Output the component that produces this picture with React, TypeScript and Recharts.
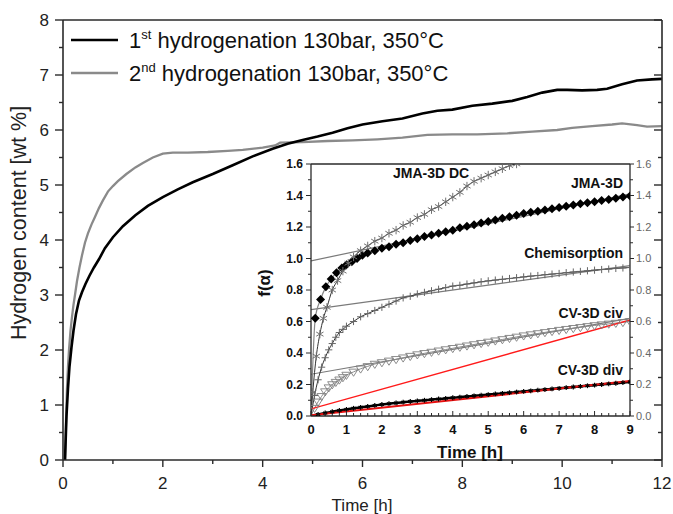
import React from 'react';
import { ComposedChart, Line, XAxis, YAxis } from 'recharts';

const FONT = '"Liberation Sans", Arial, Helvetica, sans-serif';

// ---------- main chart data ----------
const h1Time = [0.04, 0.07, 0.1, 0.13, 0.17, 0.21, 0.26, 0.32, 0.38, 0.45, 0.53, 0.62, 0.72, 0.84, 1.0, 1.2, 1.45, 1.7, 2.0, 2.3, 2.6, 3.0, 3.4, 3.8, 4.2, 4.5, 4.8, 5.1, 5.4, 5.7, 6.0, 6.4, 6.8, 7.2, 7.5, 7.8, 8.2, 8.6, 9.0, 9.3, 9.6, 9.9, 10.1, 10.4, 10.7, 10.9, 11.2, 11.5, 11.8, 12.0];
const h1Content = [0, 0.8, 1.3, 1.7, 2.05, 2.35, 2.65, 2.9, 3.05, 3.2, 3.35, 3.5, 3.65, 3.85, 4.05, 4.25, 4.45, 4.62, 4.78, 4.92, 5.05, 5.2, 5.36, 5.52, 5.66, 5.75, 5.82, 5.88, 5.95, 6.03, 6.1, 6.16, 6.21, 6.3, 6.35, 6.37, 6.44, 6.48, 6.53, 6.6, 6.68, 6.73, 6.73, 6.72, 6.73, 6.75, 6.83, 6.9, 6.92, 6.93];

const h2Time = [0.04, 0.06, 0.08, 0.1, 0.12, 0.15, 0.18, 0.21, 0.24, 0.28, 0.33, 0.38, 0.44, 0.5, 0.57, 0.64, 0.72, 0.8, 0.9, 1.0, 1.1, 1.27, 1.45, 1.6, 1.8, 2.0, 2.2, 2.5, 2.9, 3.3, 3.6, 4.0, 4.25, 4.35, 4.8, 5.3, 5.8, 6.3, 6.8, 7.3, 7.8, 8.3, 8.9, 9.4, 9.9, 10.2, 10.6, 11.0, 11.2, 11.5, 11.7, 12.0];
const h2Content = [0, 0.7, 1.3, 1.7, 2.0, 2.35, 2.6, 2.82, 3.0, 3.25, 3.5, 3.72, 3.95, 4.12, 4.28, 4.42, 4.58, 4.72, 4.88, 4.98, 5.07, 5.2, 5.32, 5.4, 5.5, 5.57, 5.59, 5.59, 5.6, 5.62, 5.64, 5.68, 5.72, 5.77, 5.78, 5.8, 5.81, 5.83, 5.86, 5.91, 5.92, 5.92, 5.94, 5.97, 6.0, 6.04, 6.07, 6.1, 6.12, 6.09, 6.06, 6.07];

const mainXTicks = [0, 1, 2, 3, 4, 5, 6, 7, 8, 9, 10, 11, 12];
const mainXLabels = [0, 2, 4, 6, 8, 10, 12];
const mainYTicks = [0, 0.5, 1, 1.5, 2, 2.5, 3, 3.5, 4, 4.5, 5, 5.5, 6, 6.5, 7, 7.5, 8];
const mainYLabels = [0, 1, 2, 3, 4, 5, 6, 7, 8];

// ---------- inset data ----------
const dcTime = [0.05, 0.15, 0.25, 0.35, 0.45, 0.6, 0.75, 0.9, 1.05, 1.2, 1.4, 1.6, 1.8, 2.0, 2.2, 2.4, 2.6, 2.8, 3.0, 3.2, 3.4, 3.6, 3.8, 4.0, 4.2, 4.4, 4.6, 4.8, 5.0, 5.2, 5.4, 5.6, 5.8];
const dcValue = [0.15, 0.38, 0.52, 0.62, 0.69, 0.8, 0.86, 0.92, 0.97, 1.01, 1.05, 1.08, 1.11, 1.13, 1.16, 1.18, 1.21, 1.23, 1.26, 1.28, 1.31, 1.33, 1.36, 1.39, 1.42, 1.46, 1.49, 1.51, 1.53, 1.55, 1.57, 1.59, 1.6];

const jmaTime = [0, 0.12, 0.27, 0.42, 0.57, 0.72, 0.87, 1.0, 1.15, 1.3, 1.45, 1.6, 1.8, 2.0, 2.2, 2.4, 2.6, 2.8, 3.0, 3.2, 3.4, 3.6, 3.8, 4.0, 4.2, 4.4, 4.6, 4.8, 5.0, 5.2, 5.4, 5.6, 5.8, 6.0, 6.2, 6.4, 6.6, 6.8, 7.0, 7.2, 7.4, 7.6, 7.8, 8.0, 8.2, 8.4, 8.6, 8.8, 9.0];
const jmaValue = [0, 0.62, 0.74, 0.82, 0.87, 0.91, 0.94, 0.96, 0.98, 1.0, 1.02, 1.035, 1.05, 1.065, 1.075, 1.09, 1.1, 1.115, 1.125, 1.14, 1.15, 1.16, 1.17, 1.18, 1.195, 1.205, 1.215, 1.225, 1.235, 1.245, 1.255, 1.265, 1.275, 1.285, 1.293, 1.3, 1.308, 1.316, 1.324, 1.332, 1.34, 1.347, 1.354, 1.361, 1.368, 1.375, 1.382, 1.39, 1.397];

const chemTime = [0, 0.1, 0.2, 0.3, 0.4, 0.5, 0.6, 0.7, 0.8, 0.9, 1.0, 1.2, 1.4, 1.6, 1.8, 2.0, 2.2, 2.4, 2.6, 2.8, 3.0, 3.2, 3.4, 3.6, 3.8, 4.0, 4.2, 4.4, 4.6, 4.8, 5.0, 5.2, 5.4, 5.6, 5.8, 6.0, 6.2, 6.4, 6.6, 6.8, 7.0, 7.2, 7.4, 7.6, 7.8, 8.0, 8.2, 8.4, 8.6, 8.8, 9.0];
const chemValue = [0, 0.13, 0.23, 0.31, 0.37, 0.42, 0.46, 0.5, 0.53, 0.55, 0.57, 0.6, 0.63, 0.65, 0.67, 0.69, 0.71, 0.73, 0.75, 0.76, 0.775, 0.785, 0.795, 0.805, 0.815, 0.825, 0.83, 0.838, 0.845, 0.852, 0.858, 0.863, 0.868, 0.873, 0.878, 0.883, 0.888, 0.892, 0.897, 0.901, 0.905, 0.91, 0.914, 0.918, 0.922, 0.926, 0.93, 0.933, 0.937, 0.94, 0.943];

const civTime = [0, 0.1, 0.2, 0.3, 0.4, 0.5, 0.6, 0.7, 0.8, 0.9, 1.0, 1.2, 1.4, 1.6, 1.8, 2.0, 2.2, 2.4, 2.6, 2.8, 3.0, 3.2, 3.4, 3.6, 3.8, 4.0, 4.2, 4.4, 4.6, 4.8, 5.0, 5.2, 5.4, 5.6, 5.8, 6.0, 6.2, 6.4, 6.6, 6.8, 7.0, 7.2, 7.4, 7.6, 7.8, 8.0, 8.2, 8.4, 8.6, 8.8, 9.0];
const civValue = [0, 0.05, 0.09, 0.125, 0.155, 0.18, 0.2, 0.215, 0.23, 0.245, 0.26, 0.28, 0.3, 0.315, 0.33, 0.34, 0.35, 0.36, 0.37, 0.38, 0.39, 0.398, 0.406, 0.414, 0.422, 0.43, 0.438, 0.446, 0.454, 0.462, 0.47, 0.478, 0.486, 0.494, 0.502, 0.51, 0.517, 0.524, 0.531, 0.538, 0.545, 0.551, 0.557, 0.563, 0.569, 0.575, 0.58, 0.585, 0.59, 0.595, 0.6];

const divTime = [0, 0.2, 0.4, 0.6, 0.8, 1.0, 1.2, 1.4, 1.6, 1.8, 2.0, 2.2, 2.4, 2.6, 2.8, 3.0, 3.2, 3.4, 3.6, 3.8, 4.0, 4.2, 4.4, 4.6, 4.8, 5.0, 5.2, 5.4, 5.6, 5.8, 6.0, 6.2, 6.4, 6.6, 6.8, 7.0, 7.2, 7.4, 7.6, 7.8, 8.0, 8.2, 8.4, 8.6, 8.8, 9.0];
const divValue = [0, 0.01, 0.019, 0.027, 0.035, 0.042, 0.049, 0.055, 0.061, 0.067, 0.073, 0.078, 0.083, 0.088, 0.092, 0.096, 0.1, 0.104, 0.108, 0.112, 0.116, 0.12, 0.124, 0.128, 0.132, 0.136, 0.14, 0.144, 0.148, 0.152, 0.156, 0.16, 0.164, 0.168, 0.172, 0.176, 0.18, 0.184, 0.188, 0.192, 0.196, 0.2, 0.204, 0.208, 0.212, 0.216];

// linear fits (endpoints)
const fitTime = [0, 9];
const jmaFit = [0.985, 1.41];
const chemFit = [0.675, 0.955];
const civFit = [0.265, 0.62];
const redUpper = [0.045, 0.61];
const redLower = [0.005, 0.222];

const insetXLabels = [0, 1, 2, 3, 4, 5, 6, 7, 8, 9];
const insetYLabels = ['0.0', '0.2', '0.4', '0.6', '0.8', '1.0', '1.2', '1.4', '1.6'];
const insetXTicks = Array.from({ length: 46 }, (_, i) => Math.round(i * 2) / 10);
const insetYTicks = Array.from({ length: 17 }, (_, i) => i / 10);

const zip = (ts: number[], vs: number[]) => ts.map((t, i) => ({ t, v: vs[i] }));

const h1Data = zip(h1Time, h1Content);
const h2Data = zip(h2Time, h2Content);
const dcData = [{ t: 0, v: 0 }, ...zip(dcTime, dcValue)];
const jmaData = zip(jmaTime, jmaValue);
const chemData = zip(chemTime, chemValue);
const civData = zip(civTime, civValue);
const divData = zip(divTime, divValue);
const jmaFitData = zip(fitTime, jmaFit);
const chemFitData = zip(fitTime, chemFit);
const civFitData = zip(fitTime, civFit);
const redUpperData = zip(fitTime, redUpper);
const redLowerData = zip(fitTime, redLower);

// ---------- tick factory ----------
type TickOpts = {
  side: 'left' | 'right' | 'top' | 'bottom';
  inward: boolean;
  major: number;
  minor: number;
  isMajor: (v: number) => boolean;
  label?: (v: number) => string | null;
  gap?: number;
  fontSize?: number;
  fontWeight?: number | string;
  fill?: string;
  stroke: string;
  strokeWidth: number;
};

function makeTick(o: TickOpts) {
  return (props: any) => {
    const x = Number(props.x);
    const y = Number(props.y);
    const v = props.payload.value;
    const len = o.isMajor(v) ? o.major : o.minor;
    const out = o.inward ? -1 : 1;
    let x2 = x;
    let y2 = y;
    if (o.side === 'left') x2 = x - out * len;
    else if (o.side === 'right') x2 = x + out * len;
    else if (o.side === 'top') y2 = y - out * len;
    else y2 = y + out * len;
    const lbl = o.label ? o.label(v) : null;
    const off = (o.inward ? 0 : len) + (o.gap ?? 0);
    const common: any = { fontFamily: FONT, fontSize: o.fontSize, fontWeight: o.fontWeight, fill: o.fill };
    let txt: any = null;
    if (lbl != null) {
      if (o.side === 'left') txt = <text x={x - off} y={y} dy="0.36em" textAnchor="end" {...common}>{lbl}</text>;
      else if (o.side === 'right') txt = <text x={x + off} y={y} dy="0.36em" textAnchor="start" {...common}>{lbl}</text>;
      else if (o.side === 'top') txt = <text x={x} y={y - off} textAnchor="middle" {...common}>{lbl}</text>;
      else txt = <text x={x} y={y + off} dy="0.72em" textAnchor="middle" {...common}>{lbl}</text>;
    }
    return (
      <g>
        <line x1={x} y1={y} x2={x2} y2={y2} stroke={o.stroke} strokeWidth={o.strokeWidth} />
        {txt}
      </g>
    );
  };
}

const isInt = (v: number) => Math.abs(v - Math.round(v)) < 1e-6;
const isEven = (v: number) => isInt(v) && Math.round(v) % 2 === 0;
const isFifth = (v: number) => Math.abs(v * 5 - Math.round(v * 5)) < 1e-6;

const AX = '#2a2a2a';

// ---------- markers ----------
const asteriskDot = (color: string, r: number, sw: number) => (p: any) => {
  const { cx, cy, index } = p;
  if (p.payload && p.payload.t === 0) return <g key={`a${index}`} />;
  const dx = r * 0.87;
  const dy = r * 0.5;
  return (
    <g key={`a${index}`} stroke={color} strokeWidth={sw}>
      <line x1={cx} y1={cy - r} x2={cx} y2={cy + r} />
      <line x1={cx - dx} y1={cy - dy} x2={cx + dx} y2={cy + dy} />
      <line x1={cx - dx} y1={cy + dy} x2={cx + dx} y2={cy - dy} />
    </g>
  );
};

const plusDot = (color: string, r: number, sw: number) => (p: any) => {
  const { cx, cy, index } = p;
  if (p.payload && p.payload.t === 0) return <g key={`p${index}`} />;
  return (
    <g key={`p${index}`} stroke={color} strokeWidth={sw}>
      <line x1={cx} y1={cy - r} x2={cx} y2={cy + r} />
      <line x1={cx - r} y1={cy} x2={cx + r} y2={cy} />
    </g>
  );
};

const diamondDot = (color: string, r: number) => (p: any) => {
  const { cx, cy, index } = p;
  if (p.payload && p.payload.t === 0) return <g key={`d${index}`} />;
  return <polygon key={`d${index}`} points={`${cx},${cy - r} ${cx + r},${cy} ${cx},${cy + r} ${cx - r},${cy}`} fill={color} />;
};

const triDownDot = (color: string, r: number) => (p: any) => {
  const { cx, cy, index } = p;
  if (p.payload && p.payload.t === 0) return <g key={`t${index}`} />;
  return (
    <polygon
      key={`t${index}`}
      points={`${cx - r},${cy - r * 0.6} ${cx + r},${cy - r * 0.6} ${cx},${cy + r * 0.95}`}
      fill="none"
      stroke={color}
      strokeWidth={0.9}
    />
  );
};

// ---------- layout ----------
const W = 673;
const H = 514;
const INSET_L = 270;
const INSET_T = 139;
const INSET_W = 400;
const INSET_H = 330;

export default function App() {
  return (
    <div style={{ position: 'absolute', left: 0, top: 0, width: W, height: H, background: '#fff', fontFamily: FONT }}>
      {/* main chart */}
      <div style={{ position: 'absolute', left: 0, top: 0 }}>
        <ComposedChart width={W} height={H} margin={{ top: 19, right: 10, bottom: 0, left: 0 }}>
          <XAxis
            xAxisId="b"
            dataKey="t"
            type="number"
            domain={[0, 12]}
            allowDataOverflow
            ticks={mainXTicks}
            interval={0}
            orientation="bottom"
            height={54}
            tickLine={false}
            tickSize={0}
            tickMargin={0}
            axisLine={{ stroke: AX, strokeWidth: 1.6 }}
            tick={makeTick({
              side: 'bottom', inward: false, major: 7, minor: 4, isMajor: isEven,
              label: (v) => (mainXLabels.includes(v) ? String(v) : null),
              gap: 10, fontSize: 17, fill: '#222', stroke: AX, strokeWidth: 1.4,
            })}
          />
          <XAxis
            xAxisId="top"
            type="number"
            domain={[0, 12]}
            allowDataOverflow
            ticks={mainXTicks}
            interval={0}
            orientation="top"
            height={1}
            tickLine={false}
            tickSize={0}
            tickMargin={0}
            axisLine={{ stroke: AX, strokeWidth: 1.6 }}
            tick={makeTick({ side: 'top', inward: true, major: 7, minor: 4, isMajor: isEven, stroke: AX, strokeWidth: 1.4 })}
          />
          <YAxis
            yAxisId="l"
            type="number"
            domain={[0, 8]}
            allowDataOverflow
            ticks={mainYTicks}
            interval={0}
            width={63}
            tickLine={false}
            tickSize={0}
            tickMargin={0}
            axisLine={{ stroke: AX, strokeWidth: 1.6 }}
            tick={makeTick({
              side: 'left', inward: false, major: 8, minor: 4, isMajor: isInt,
              label: (v) => (mainYLabels.includes(v) ? String(v) : null),
              gap: 6, fontSize: 17, fill: '#222', stroke: AX, strokeWidth: 1.4,
            })}
          />
          <YAxis
            yAxisId="r"
            orientation="right"
            type="number"
            domain={[0, 8]}
            allowDataOverflow
            ticks={mainYTicks}
            interval={0}
            width={1}
            tickLine={false}
            tickSize={0}
            tickMargin={0}
            axisLine={{ stroke: AX, strokeWidth: 1.6 }}
            tick={makeTick({ side: 'right', inward: true, major: 8, minor: 4, isMajor: isInt, stroke: AX, strokeWidth: 1.4 })}
          />
          <Line xAxisId="b" yAxisId="l" data={h2Data} dataKey="v" type="linear" stroke="#8a8a8a" strokeWidth={2.3} dot={false} isAnimationActive={false} />
          <Line xAxisId="b" yAxisId="l" data={h1Data} dataKey="v" type="linear" stroke="#000" strokeWidth={2.6} dot={false} isAnimationActive={false} />
        </ComposedChart>
      </div>

      {/* inset chart */}
      <div style={{ position: 'absolute', left: INSET_L, top: INSET_T }}>
        <ComposedChart width={INSET_W} height={INSET_H} margin={{ top: 0, right: 0, bottom: 0, left: 0 }}>
          <XAxis
            xAxisId="b"
            dataKey="t"
            type="number"
            domain={[0, 9]}
            allowDataOverflow
            ticks={insetXTicks}
            interval={0}
            orientation="bottom"
            height={53}
            tickLine={false}
            tickSize={0}
            tickMargin={0}
            axisLine={{ stroke: AX, strokeWidth: 1.3 }}
            tick={makeTick({
              side: 'bottom', inward: true, major: 5, minor: 3, isMajor: isInt,
              label: (v) => (isInt(v) && insetXLabels.includes(Math.round(v)) ? String(Math.round(v)) : null),
              gap: 9, fontSize: 13, fontWeight: 'bold', fill: '#111', stroke: AX, strokeWidth: 1,
            })}
          />
          <XAxis
            xAxisId="top"
            type="number"
            domain={[0, 9]}
            allowDataOverflow
            ticks={insetXTicks}
            interval={0}
            orientation="top"
            height={25}
            tickLine={false}
            tickSize={0}
            tickMargin={0}
            axisLine={{ stroke: AX, strokeWidth: 1.3 }}
            tick={makeTick({
              side: 'top', inward: true, major: 5, minor: 3, isMajor: isInt,
              label: (v) => (isInt(v) && insetXLabels.includes(Math.round(v)) ? String(Math.round(v)) : null),
              gap: 8, fontSize: 11, fill: '#666', stroke: AX, strokeWidth: 1,
            })}
          />
          <YAxis
            yAxisId="l"
            type="number"
            domain={[0, 1.6]}
            allowDataOverflow
            ticks={insetYTicks}
            interval={0}
            width={41}
            tickLine={false}
            tickSize={0}
            tickMargin={0}
            axisLine={{ stroke: AX, strokeWidth: 1.3 }}
            tick={makeTick({
              side: 'left', inward: false, major: 5, minor: 3, isMajor: isFifth,
              label: (v) => (isFifth(v) ? insetYLabels[Math.round(v * 5)] : null),
              gap: 3, fontSize: 12, fontWeight: 'bold', fill: '#111', stroke: AX, strokeWidth: 1,
            })}
          />
          <YAxis
            yAxisId="r"
            orientation="right"
            type="number"
            domain={[0, 1.6]}
            allowDataOverflow
            ticks={insetYTicks}
            interval={0}
            width={40}
            tickLine={false}
            tickSize={0}
            tickMargin={0}
            axisLine={{ stroke: AX, strokeWidth: 1.3 }}
            tick={makeTick({
              side: 'right', inward: false, major: 4, minor: 3, isMajor: isFifth,
              label: (v) => (isFifth(v) ? insetYLabels[Math.round(v * 5)] : null),
              gap: 2, fontSize: 11, fill: '#666', stroke: AX, strokeWidth: 1,
            })}
          />

          {/* linear fits */}
          <Line xAxisId="b" yAxisId="l" data={jmaFitData} dataKey="v" type="linear" stroke="#7a7a7a" strokeWidth={1.2} dot={false} isAnimationActive={false} />
          <Line xAxisId="b" yAxisId="l" data={chemFitData} dataKey="v" type="linear" stroke="#7a7a7a" strokeWidth={1.2} dot={false} isAnimationActive={false} />
          <Line xAxisId="b" yAxisId="l" data={civFitData} dataKey="v" type="linear" stroke="#7a7a7a" strokeWidth={1.2} dot={false} isAnimationActive={false} />

          {/* model series */}
          <Line xAxisId="b" yAxisId="l" data={civData} dataKey="v" type="monotone" stroke="#8a8a8a" strokeWidth={1} dot={triDownDot('#7f7f7f', 4.6)} isAnimationActive={false} />
          <Line xAxisId="b" yAxisId="l" data={chemData} dataKey="v" type="monotone" stroke="#333" strokeWidth={1} dot={plusDot('#666', 3.6, 1)} isAnimationActive={false} />
          <Line xAxisId="b" yAxisId="l" data={jmaData} dataKey="v" type="monotone" stroke="#888" strokeWidth={1.2} dot={diamondDot('#000', 4.5)} isAnimationActive={false} />
          <Line xAxisId="b" yAxisId="l" data={dcData} dataKey="v" type="monotone" stroke="#333" strokeWidth={1} dot={asteriskDot('#707070', 4.2, 1)} isAnimationActive={false} />
          <Line xAxisId="b" yAxisId="l" data={divData} dataKey="v" type="monotone" stroke="#000" strokeWidth={2.5} dot={asteriskDot('#000', 2.4, 1.2)} isAnimationActive={false} />

          {/* red lines */}
          <Line xAxisId="b" yAxisId="l" data={redUpperData} dataKey="v" type="linear" stroke="#ff1a1a" strokeWidth={1.4} dot={false} isAnimationActive={false} />
          <Line xAxisId="b" yAxisId="l" data={redLowerData} dataKey="v" type="linear" stroke="#e61010" strokeWidth={2} dot={false} isAnimationActive={false} />
        </ComposedChart>
      </div>

      {/* overlay texts */}
      <svg width={W} height={H} style={{ position: 'absolute', left: 0, top: 0, pointerEvents: 'none' }}>
        <g fontFamily={FONT}>
          <line x1={71} y1={40} x2={118} y2={40} stroke="#000" strokeWidth={2.6} />
          <text x={129} y={48} fontSize={22} fill="#111">
            1<tspan fontSize={13} dy={-9}>st</tspan>
            <tspan dy={9}> hydrogenation 130bar, 350°C</tspan>
          </text>
          <line x1={71} y1={73} x2={118} y2={73} stroke="#8a8a8a" strokeWidth={2.4} />
          <text x={129} y={81} fontSize={22} fill="#111">
            2<tspan fontSize={13} dy={-9}>nd</tspan>
            <tspan dy={9}> hydrogenation 130bar, 350°C</tspan>
          </text>

          <text x={26} y={223} fontSize={21.5} fill="#222" textAnchor="middle" transform="rotate(-90 26 223)">Hydrogen content [wt %]</text>
          <text x={362} y={511} fontSize={17} fill="#222" textAnchor="middle">Time [h]</text>

          <text x={470} y={458} fontSize={17} fontWeight="bold" fill="#111" textAnchor="middle">Time [h]</text>
          <text x={270} y={283} fontSize={17} fontWeight="bold" fill="#111" textAnchor="middle" transform="rotate(-90 270 283)">f(α)</text>

          <g fontSize={14} fontWeight="bold" fill="#111">
            <text x={393} y={178}>JMA-3D DC</text>
            <text x={623} y={188} textAnchor="end">JMA-3D</text>
            <text x={623} y={258} textAnchor="end">Chemisorption</text>
            <text x={623} y={318} textAnchor="end">CV-3D civ</text>
            <text x={623} y={375} textAnchor="end">CV-3D div</text>
          </g>
        </g>
      </svg>
    </div>
  );
}
